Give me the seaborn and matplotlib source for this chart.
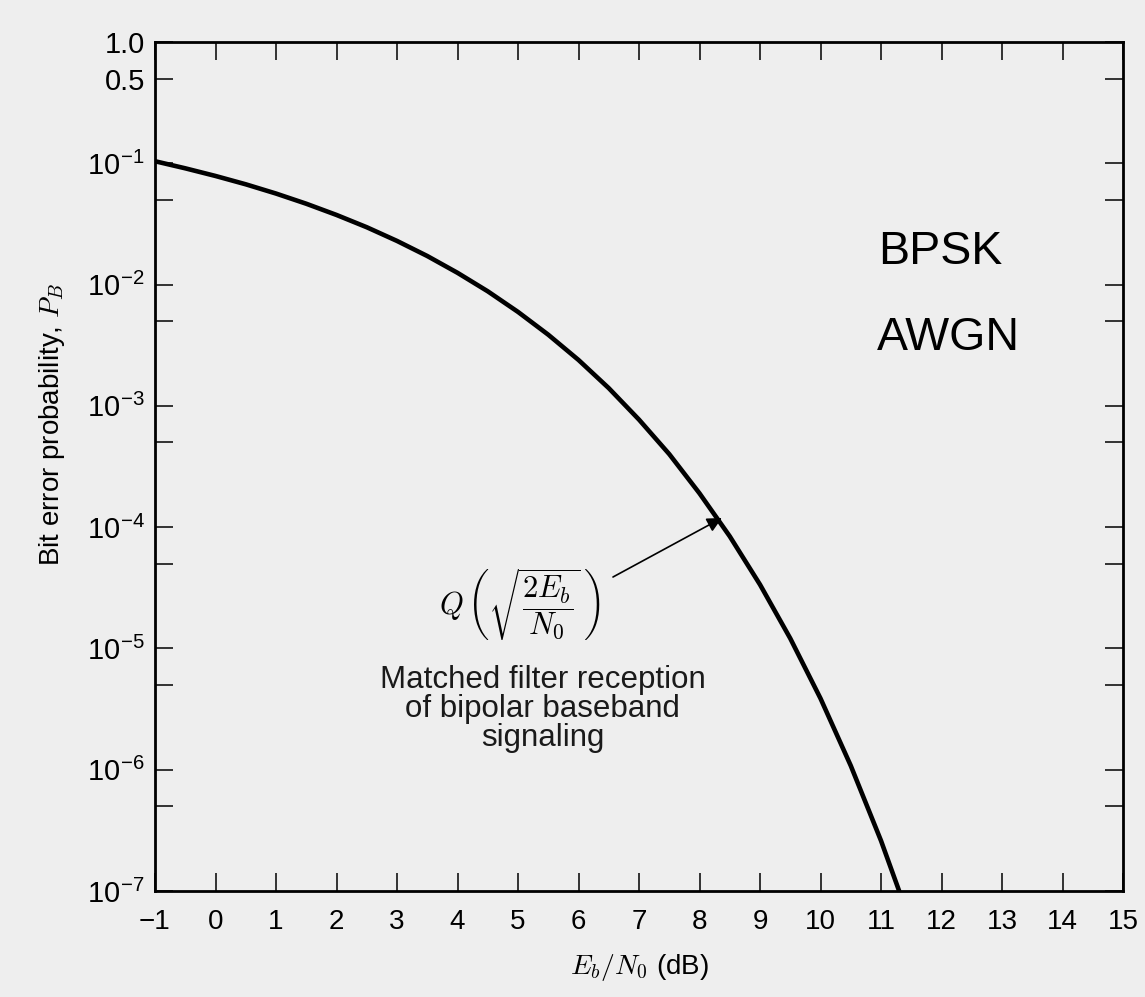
import numpy as np
import pandas as pd
import matplotlib
matplotlib.use("Agg")
import matplotlib.pyplot as plt
import seaborn as sns

# ---- data ----
ebn0_db = [-1.0, -0.5, 0.0, 0.5, 1.0, 1.5, 2.0, 2.5, 3.0, 3.5, 4.0, 4.5, 5.0,
           5.5, 6.0, 6.5, 7.0, 7.5, 8.0, 8.5, 9.0, 9.5, 10.0, 10.5, 11.0, 11.3]
p_bit = [0.104, 0.0909, 0.0786, 0.0671, 0.0563, 0.0464, 0.0375, 0.0297,
         0.0229, 0.0172, 0.0125, 0.0088, 0.00595, 0.00386, 0.00239, 0.0014,
         7.7e-4, 4.0e-4, 1.9e-4, 8.4e-5, 3.36e-5, 1.21e-5, 3.87e-6, 1.08e-6,
         2.6e-7, 1.0e-7]

x_ticks = list(range(-1, 16))
y_major = [1.0, 0.5, 1e-1, 1e-2, 1e-3, 1e-4, 1e-5, 1e-6, 1e-7]
y_major_labels = ["1.0", "0.5"] + ["10$^{\\mathregular{-%d}}$" % k for k in range(1, 8)]
y_minor = [5e-2, 5e-3, 5e-4, 5e-5, 5e-6, 5e-7]

df = pd.DataFrame({"EbN0": ebn0_db, "PB": p_bit})

sns.set_theme(style="ticks")
plt.rcParams["font.family"] = ["Liberation Sans", "DejaVu Sans"]
plt.rcParams["mathtext.fontset"] = "cm"

bg = "#eeeeee"
fig = plt.figure(figsize=(11.45, 9.97), dpi=100, facecolor=bg)
ax = fig.add_axes([155 / 1145, 1 - 891 / 997, (1123 - 155) / 1145, (891 - 42) / 997])
ax.set_facecolor(bg)

sns.lineplot(data=df, x="EbN0", y="PB", ax=ax, color="black", linewidth=3.3)

ax.set_yscale("log")
ax.set_xlim(-1, 15)
ax.set_ylim(1e-7, 1.0)

ax.set_xticks(x_ticks)
ax.set_xticklabels([("\u2212%d" % -t) if t < 0 else str(t) for t in x_ticks])
ax.set_yticks(y_major)
ax.set_yticklabels(y_major_labels)
ax.set_yticks(y_minor, minor=True)
ax.yaxis.set_minor_formatter(matplotlib.ticker.NullFormatter())
ax.xaxis.set_minor_locator(matplotlib.ticker.NullLocator())

for side in ["top", "right", "bottom", "left"]:
    ax.spines[side].set_visible(True)
    ax.spines[side].set_linewidth(2.0)
    ax.spines[side].set_color("black")

ax.tick_params(axis="both", which="both", direction="in", length=13,
               width=1.1, color="black", top=True, right=True,
               labelsize=20, labelcolor="black")
ax.tick_params(axis="y", which="major", labelsize=21)
ax.tick_params(axis="x", pad=13)
ax.tick_params(axis="y", pad=7)

ax.set_xlabel("$E_b/N_0$ (dB)", fontsize=20, color="black")
ax.set_ylabel("Bit error probability, $P_B$", fontsize=20, color="black")
ax.xaxis.set_label_coords(0.5, -0.072)
ax.yaxis.label.set_verticalalignment("bottom")
ax.yaxis.set_label_coords(-0.091, 0.549)

# annotations
ax.annotate("", xy=(8.37, 1.19e-4), xytext=(6.57, 3.88e-5),
            arrowprops=dict(arrowstyle="-|>", lw=1.2, color="black",
                            mutation_scale=22, shrinkA=0, shrinkB=0))
ax.text(5.03, 2.28e-5, r"$Q\,\left(\sqrt{\dfrac{2E_b}{N_0}}\,\right)$",
        fontsize=22, ha="center", va="center", color="black")
ax.text(5.41, 7.3e-6, "Matched filter reception\nof bipolar baseband\nsignaling",
        fontsize=22.5, ha="center", va="top", linespacing=0.95, color="#1a1a1a")
ax.text(10.95, 0.0186, "BPSK", fontsize=33.5, ha="left", va="center", color="black")
ax.text(10.93, 3.63e-3, "AWGN", fontsize=33.5, ha="left", va="center", color="black")

fig.savefig("out.png", dpi=100, facecolor=bg)
